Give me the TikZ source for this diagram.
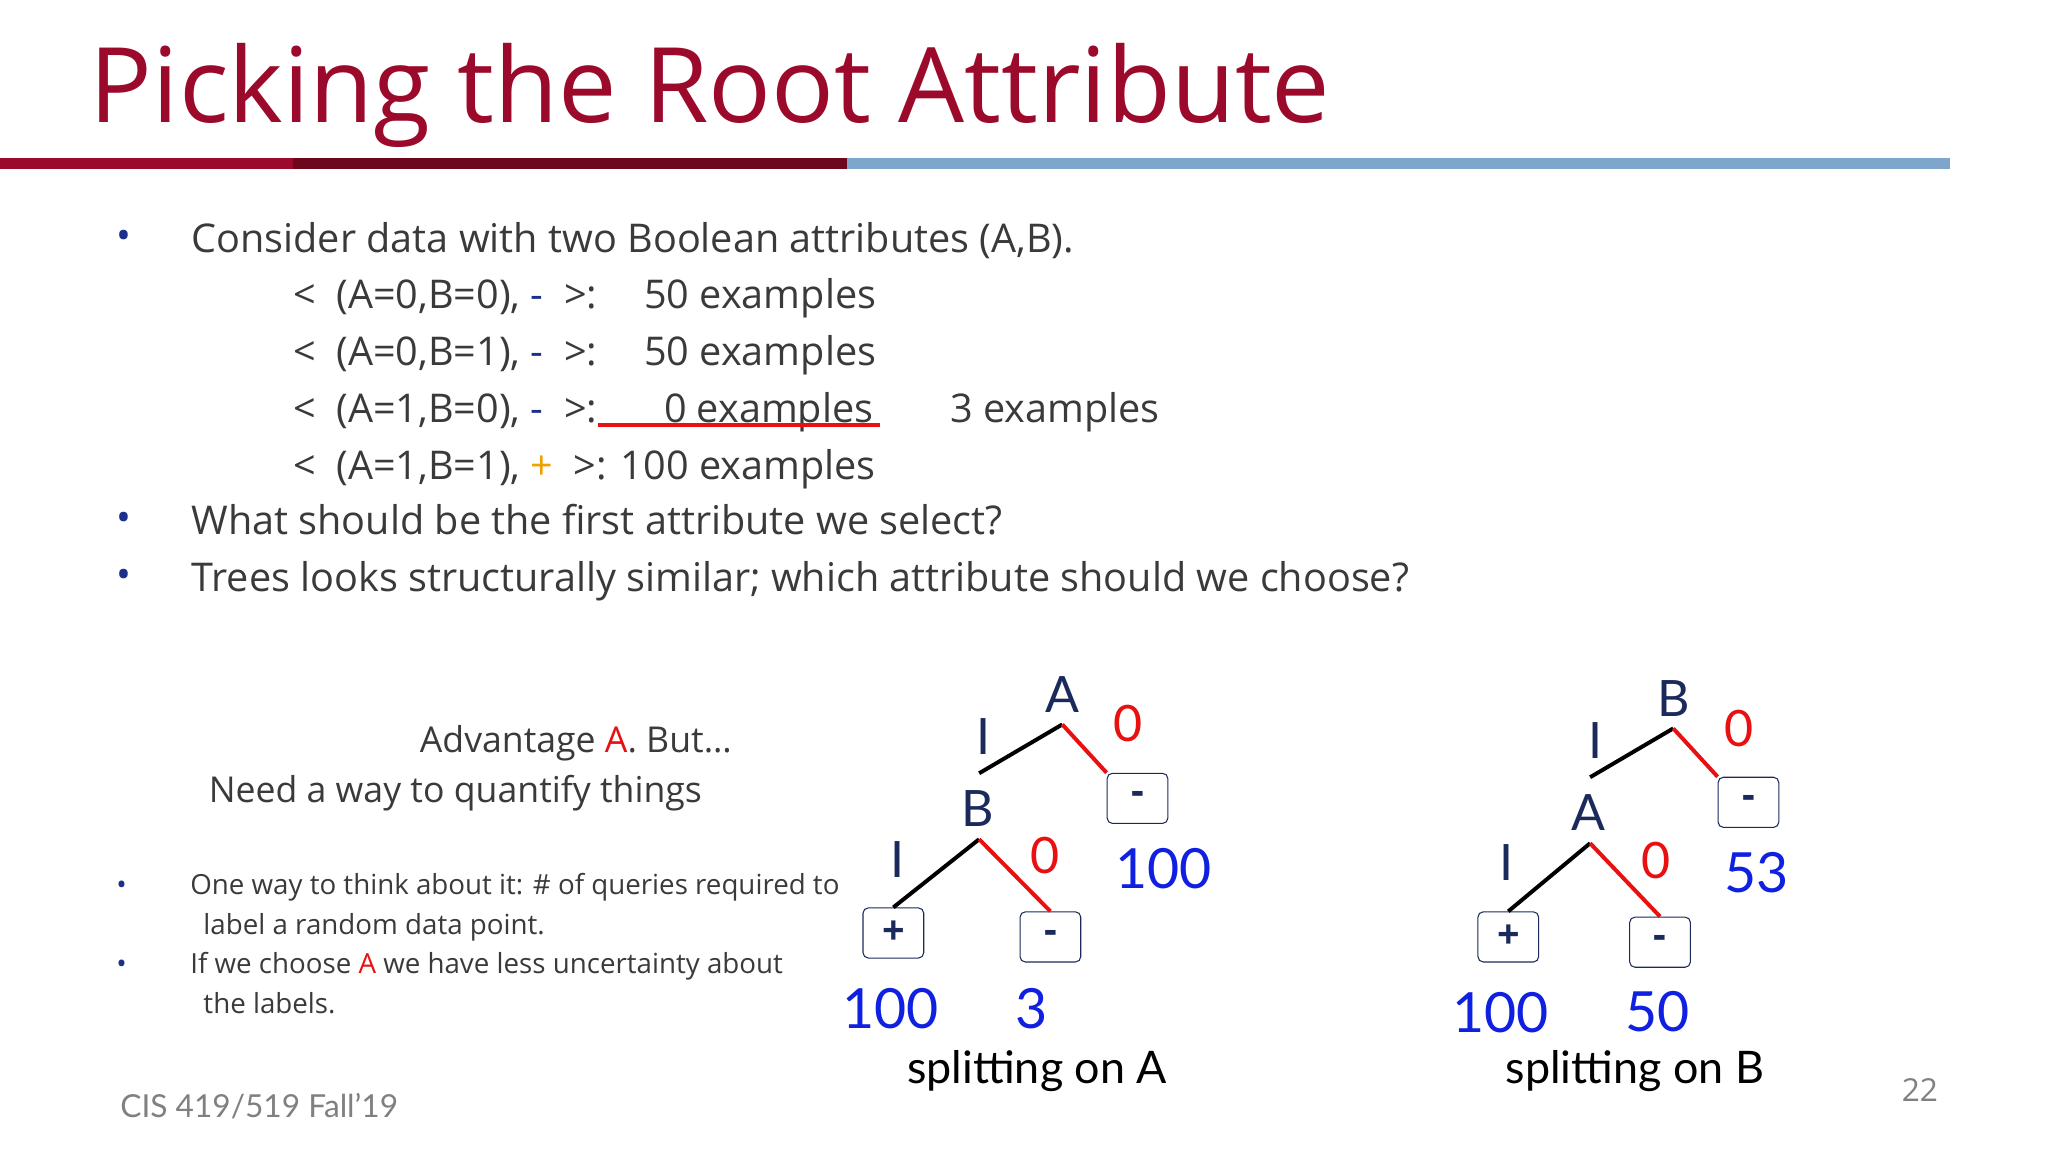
\documentclass[tikz,border=0pt]{standalone}
\usepackage{fontspec}
\setmainfont{Open Sans}
\newfontfamily\treefont{Lato}
\definecolor{ttl}{HTML}{9B0A2A}
\definecolor{txt}{HTML}{3A3A3A}
\definecolor{dblue}{HTML}{1C2F8A}
\definecolor{vblue}{HTML}{1020E0}
\definecolor{org}{HTML}{F0A000}
\definecolor{lblue}{HTML}{7EA6CC}
\definecolor{navy}{HTML}{1A2A5A}
\definecolor{rd}{HTML}{E81010}
\tikzset{
 body/.style={anchor=base west,text=txt,font=\fontsize{30}{36}\selectfont,inner sep=0},
 small/.style={anchor=base west,text=txt,font=\fontsize{21}{26}\selectfont,inner sep=0},
 lbl/.style={font=\treefont\fontsize{38}{44}\selectfont,inner sep=0,text=navy},
 num/.style={font=\treefont\fontsize{42}{48}\selectfont,inner sep=0,text=vblue},
 bx/.style={draw=navy,thick,rounded corners=4pt,minimum width=46pt,minimum height=38pt,inner sep=0,font=\fontsize{30}{30}\selectfont\bfseries,text=navy},
 br/.style={line width=3pt,black},
 rr/.style={line width=3pt,rd},
}
\begin{document}
\begin{tikzpicture}[x=1pt,y=-1pt]
\useasboundingbox (0,0) rectangle (1552,873);
\node[anchor=base west,inner sep=0,text=ttl,font=\fontsize{79}{88}\selectfont] (title) at (68,93) {Picking the Root Attribute};
\fill[ttl] (0,120) rectangle (222,128);
\fill[ttl!70!black] (222,120) rectangle (642,128);
\fill[lblue] (642,120) rectangle (1478,128);
% bullets
\foreach \y/\n in {189/b1,403/b2,446/b3}{\node[body,text=dblue] (\n) at (88,\y) {•};}
\node[body] (t1) at (145,191) {Consider data with two Boolean attributes (A,B).};
\node[body] (r1) at (222,234) {<\ \ (A=0,B=0), \textcolor{dblue}{-}\ \ >:};
\node[body] (e1) at (488,234) {50 examples};
\node[body] (r2) at (222,277) {<\ \ (A=0,B=1), \textcolor{dblue}{-}\ \ >:};
\node[body] (e2) at (488,277) {50 examples};
\node[body] (r3) at (222,320) {<\ \ (A=1,B=0), \textcolor{dblue}{-}\ \ >:};
\node[body] (e3) at (503,320) {0 examples};
\coordinate (s1) at (453,322); \coordinate (s2) at (667,322);
\draw[rd,line width=3pt] (s1) -- (s2);
\node[body] (e3b) at (720,320) {3 examples};
\node[body] (r4) at (222,363) {<\ \ (A=1,B=1), \textcolor{org}{+}\ \ >: 100 examples};
\node[body] (t2) at (145,405) {What should be the first attribute we select?};
\node[body] (t3) at (145,448) {Trees looks structurally similar; which attribute should we choose?};
% left text
\node[body,font=\fontsize{27}{32}\selectfont] (adv) at (318,570) {Advantage \textcolor{rd}{A}. But…};
\node[body,font=\fontsize{27}{32}\selectfont] (need) at (158,608) {Need a way to quantify things};
\node[small,text=dblue] (sb1) at (88,678) {•};
\node[small,text=dblue] (sb2) at (88,738) {•};
\node[small] (s1t) at (144,678) {One way to think about it: \# of queries required to};
\node[small] (s1u) at (154,708) {label a random data point.};
\node[small] (s2t) at (144,738) {If we choose \textcolor{rd}{A} we have less uncertainty about};
\node[small] (s2u) at (154,768) {the labels.};
\node[anchor=base west,inner sep=0,text=gray,font=\treefont\fontsize{24}{28}\selectfont] (foot) at (91,847) {CIS 419/519 Fall’19};
\node[anchor=base west,inner sep=0,text=gray,font=\fontsize{24}{28}\selectfont] (pg) at (1441,835) {22};
\begin{scope}[shift={(-6,-4)}]
% tree A
\node[lbl] (ra) at (811,530) {A};
\coordinate (ja) at (811,553);
\coordinate (la) at (748,590);
\node[lbl] (ia) at (751,562) {I};
\node[lbl,text=rd] (za) at (861,552) {0};
\node[bx] (ma) at (868,609) {-};
\node[num] (na) at (888,662) {100};
\node[lbl] (rb) at (747,617) {B};
\coordinate (jb) at (748,640);
\draw[br] (ja) -- (la);
\draw[rr] (ja) -- (ma.north west);
\node[lbl] (ib) at (686,655) {I};
\node[lbl,text=rd] (zb) at (798,652) {0};
\node[bx] (pa) at (683,711) {+};
\node[bx] (mb) at (802,714) {-};
\draw[br] (jb) -- (pa.north);
\draw[rr] (jb) -- (mb.north);
\node[num] (n1) at (681,768) {100};
\node[num] (n2) at (788,768) {3};
\node[lbl,text=black,font=\treefont\fontsize{34}{40}\selectfont] (sa) at (792,816) {splitting on A};
% tree B
\node[lbl] (rB) at (1274,533) {B};
\coordinate (jB) at (1274,556);
\coordinate (lB) at (1211,593);
\node[lbl] (iB) at (1215,565) {I};
\node[lbl,text=rd] (zB) at (1324,556) {0};
\node[bx] (mB) at (1331,612) {-};
\node[num] (nB) at (1337,665) {53};
\node[lbl] (rA) at (1210,620) {A};
\coordinate (jA) at (1211,643);
\draw[br] (jB) -- (lB);
\draw[rr] (jB) -- (mB.north west);
\node[lbl] (iA) at (1148,658) {I};
\node[lbl,text=rd] (zA) at (1261,656) {0};
\node[bx] (pB) at (1149,714) {+};
\node[bx] (mA) at (1264,718) {-};
\draw[br] (jA) -- (pB.north);
\draw[rr] (jA) -- (mA.north);
\node[num] (n3) at (1143,771) {100};
\node[num] (n4) at (1262,771) {50};
\node[lbl,text=black,font=\treefont\fontsize{34}{40}\selectfont] (sB) at (1245,816) {splitting on B};
\end{scope}
\end{tikzpicture}
\end{document}
